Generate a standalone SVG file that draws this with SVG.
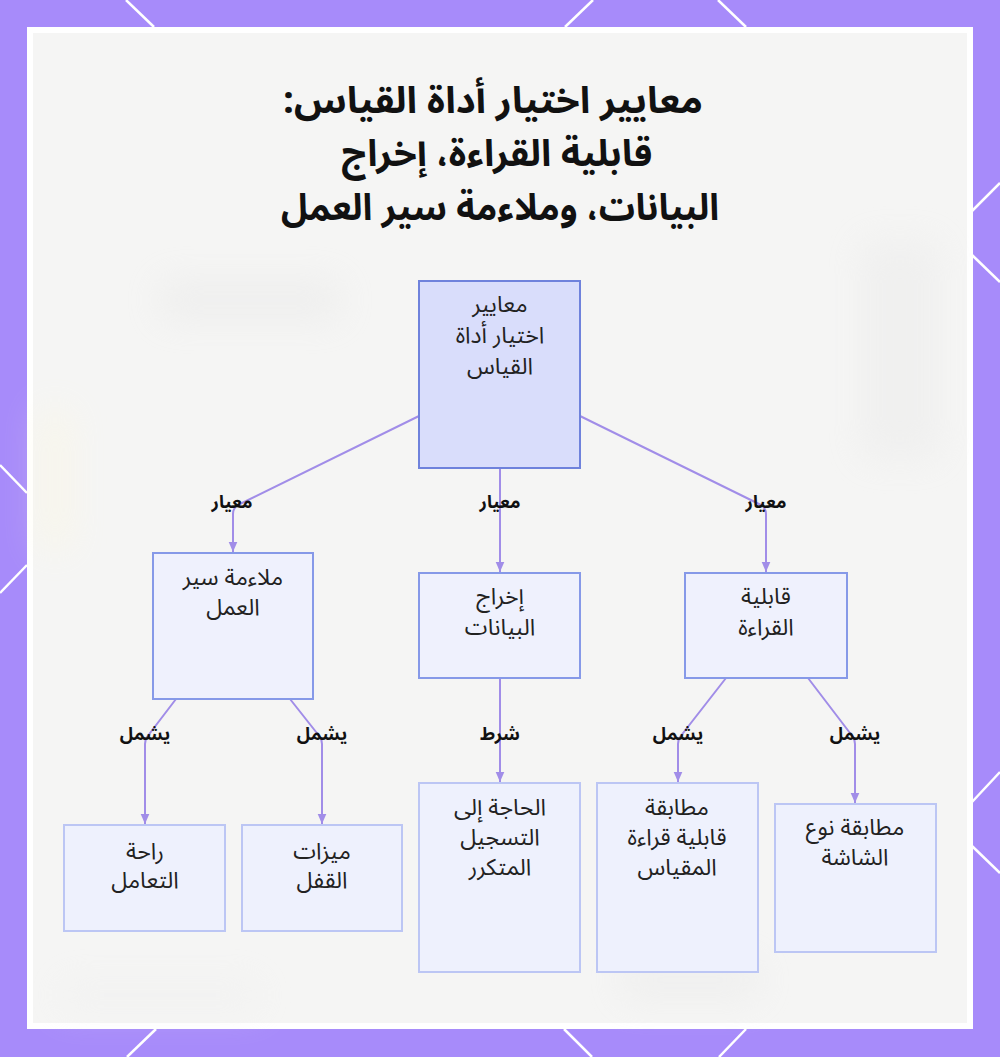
<svg xmlns="http://www.w3.org/2000/svg" width="1000" height="1057" viewBox="0 0 1000 1057">
<defs>
<style>
.frame{fill:#a78bfa}
.deco{stroke:#ffffff;stroke-width:2.5;fill:none}
.ttl{font-family:'Noto Sans Arabic','Noto Sans','DejaVu Sans',sans-serif;font-weight:bold;font-size:37px;fill:#111;text-anchor:middle}
.nt{font-family:'Noto Sans Arabic','Noto Sans','DejaVu Sans',sans-serif;font-size:23px;fill:#222;text-anchor:middle}
.lb{font-family:'Noto Sans Arabic','Noto Sans','DejaVu Sans',sans-serif;font-weight:bold;font-size:18px;fill:#111;text-anchor:middle}
.root{fill:#d9ddfb;stroke:#6f82dc;stroke-width:2}
.mid{fill:#eff1fd;stroke:#8699e8;stroke-width:2}
.leaf{fill:#eef1fd;stroke:#bcc6f4;stroke-width:2}
.edge{fill:none;stroke:#a18de8;stroke-width:2}
</style>
<marker id="arr" viewBox="0 0 8 8" refX="7" refY="4" markerWidth="6" markerHeight="6" orient="auto">
<path d="M0,1 L7,4 L0,7 Z" fill="#a18de8"/>
</marker>
<filter id="blur" x="-50%" y="-50%" width="200%" height="200%"><feGaussianBlur stdDeviation="18"/></filter>
</defs>
<rect class="frame" x="0" y="0" width="1000" height="1057"/>
<g id="frame-lines">
<line class="deco" x1="126" y1="0" x2="154" y2="27"/>
<line class="deco" x1="593" y1="0" x2="565" y2="27"/>
<line class="deco" x1="718" y1="0" x2="746" y2="27"/>
<line class="deco" x1="0" y1="465" x2="27" y2="493"/>
<line class="deco" x1="27" y1="565" x2="0" y2="593"/>
<line class="deco" x1="972" y1="211" x2="1000" y2="183"/>
<line class="deco" x1="972" y1="255" x2="1000" y2="282"/>
<line class="deco" x1="972" y1="802" x2="1000" y2="772"/>
<line class="deco" x1="972" y1="846" x2="1000" y2="873"/>
<line class="deco" x1="156" y1="1029" x2="127" y2="1057"/>
<line class="deco" x1="564" y1="1029" x2="592" y2="1057"/>
<line class="deco" x1="746" y1="1029" x2="719" y2="1057"/>
</g>
<rect x="27" y="27" width="946" height="1002" fill="#ffffff"/>
<rect x="33" y="33" width="934" height="990" fill="#f5f5f4"/>
<g id="backdrop" filter="url(#blur)" opacity="0.35">
<rect x="40" y="410" width="30" height="140" fill="#fff8d8"/>
<rect x="160" y="280" width="180" height="40" fill="#e2e2e2"/>
<rect x="860" y="240" width="80" height="220" fill="#e6e6e6"/>
<rect x="620" y="960" width="140" height="40" fill="#e4e4e4"/>
<rect x="60" y="980" width="200" height="30" fill="#ececec"/>
</g>
<g id="title">
<text class="ttl" x="493" y="113" direction="rtl" textLength="420" lengthAdjust="spacingAndGlyphs">معايير اختيار أداة القياس:</text>
<text class="ttl" x="497" y="166" direction="rtl" textLength="311" lengthAdjust="spacingAndGlyphs">قابلية القراءة، إخراج</text>
<text class="ttl" x="500" y="220" direction="rtl" textLength="438" lengthAdjust="spacingAndGlyphs">البيانات، وملاءمة سير العمل</text>
</g>
<g id="connectors">
<path class="edge" d="M419,416 L238,505 Q233,508 233,514 L233,552" marker-end="url(#arr)"/>
<path class="edge" d="M500,469 L500,572" marker-end="url(#arr)"/>
<path class="edge" d="M580,416 L761,505 Q766,508 766,514 L766,572" marker-end="url(#arr)"/>
<path class="edge" d="M176,699 L147,737 Q145,740 145,744 L145,824" marker-end="url(#arr)"/>
<path class="edge" d="M290,699 L320,737 Q322,740 322,744 L322,824" marker-end="url(#arr)"/>
<path class="edge" d="M500,678 L500,782" marker-end="url(#arr)"/>
<path class="edge" d="M726,678 L680,737 Q678,740 678,744 L678,782" marker-end="url(#arr)"/>
<path class="edge" d="M808,678 L853,737 Q855,740 855,744 L855,803" marker-end="url(#arr)"/>
<text class="lb" x="232" y="508">معيار</text>
<text class="lb" x="500" y="508">معيار</text>
<text class="lb" x="766" y="508">معيار</text>
<text class="lb" x="145" y="740">يشمل</text>
<text class="lb" x="322" y="740">يشمل</text>
<text class="lb" x="500" y="740">شرط</text>
<text class="lb" x="678" y="740">يشمل</text>
<text class="lb" x="855" y="740">يشمل</text>
</g>
<g id="n-root">
<rect class="root" x="419" y="281" width="161" height="187"/>
<text class="nt" x="500" y="312">معايير</text>
<text class="nt" x="500" y="343">اختيار أداة</text>
<text class="nt" x="500" y="374">القياس</text>
</g>
<g id="n-workflow">
<rect class="mid" x="153" y="553" width="160" height="146"/>
<text class="nt" x="233" y="585">ملاءمة سير</text>
<text class="nt" x="233" y="615">العمل</text>
</g>
<g id="n-output">
<rect class="mid" x="419" y="573" width="161" height="105"/>
<text class="nt" x="500" y="604">إخراج</text>
<text class="nt" x="500" y="635">البيانات</text>
</g>
<g id="n-readability">
<rect class="mid" x="685" y="573" width="162" height="105"/>
<text class="nt" x="766" y="604">قابلية</text>
<text class="nt" x="766" y="635">القراءة</text>
</g>
<g id="n-handling">
<rect class="leaf" x="64" y="825" width="161" height="106"/>
<text class="nt" x="145" y="859">راحة</text>
<text class="nt" x="145" y="888">التعامل</text>
</g>
<g id="n-lock">
<rect class="leaf" x="242" y="825" width="160" height="106"/>
<text class="nt" x="322" y="859">ميزات</text>
<text class="nt" x="322" y="888">القفل</text>
</g>
<g id="n-logging">
<rect class="leaf" x="419" y="783" width="161" height="189"/>
<text class="nt" x="500" y="815">الحاجة إلى</text>
<text class="nt" x="500" y="845">التسجيل</text>
<text class="nt" x="500" y="875">المتكرر</text>
</g>
<g id="n-gauge">
<rect class="leaf" x="597" y="783" width="161" height="189"/>
<text class="nt" x="677" y="815">مطابقة</text>
<text class="nt" x="677" y="845">قابلية قراءة</text>
<text class="nt" x="677" y="875">المقياس</text>
</g>
<g id="n-screen">
<rect class="leaf" x="775" y="804" width="161" height="148"/>
<text class="nt" x="855" y="835">مطابقة نوع</text>
<text class="nt" x="855" y="865">الشاشة</text>
</g>
</svg>
